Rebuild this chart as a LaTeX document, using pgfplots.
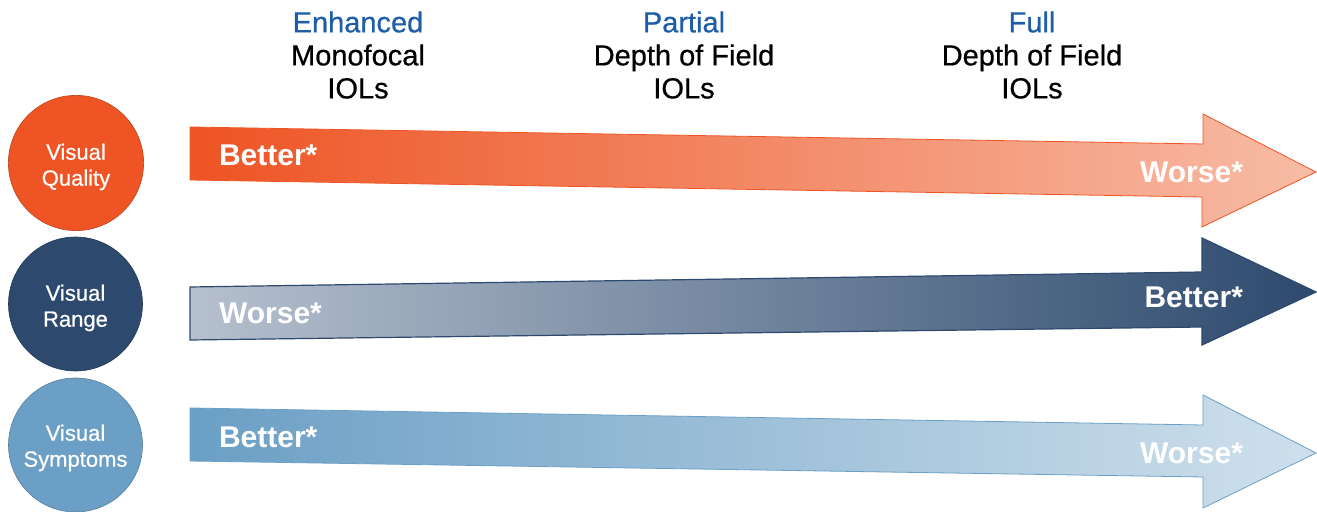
\documentclass[border=0pt]{standalone}
\usepackage{fontspec}
\setmainfont{Liberation Sans}
\newfontfamily\medfont[FakeBold=0.6]{Liberation Sans}
\usepackage{pgfplots}
\pgfplotsset{compat=1.18}

\definecolor{qorange}{HTML}{EE5424}
\definecolor{qorangeL}{HTML}{F7BCA6}
\definecolor{rnavy}{HTML}{2D4A6E}
\definecolor{rnavyL}{HTML}{B6C0CE}
\definecolor{sblue}{HTML}{6B9FC5}
\definecolor{sblueL}{HTML}{CFE0EC}
\definecolor{hblue}{HTML}{1E5DA8}

\begin{document}
\begin{tikzpicture}
    \begin{axis}[
        width=658.5pt, height=256pt,
        scale only axis,
        hide axis,
        clip=false,
        xmin=0, xmax=1317,
        ymin=0, ymax=512,
        y dir=reverse,
    ]
        % arrows (pixel coordinates, y downward)
        \addplot[mark=none, draw=qorange, thin, left color=qorange, right color=qorangeL] coordinates {
            (190,127) (1203,144) (1203,114) (1316,172) (1202,227) (1202,197) (190,180)
        } -- cycle;
        \addplot[mark=none, draw=rnavy, semithick, left color=rnavyL, right color=rnavy] coordinates {
            (190,287) (1202,272) (1202,238) (1316,292) (1202,345) (1202,327) (190,340)
        } -- cycle;
        \addplot[mark=none, draw=sblue, thin, left color=sblue, right color=sblueL] coordinates {
            (190,408) (1203,425) (1203,395) (1316,453) (1203,508) (1203,477) (190,461)
        } -- cycle;

        % circles
        \addplot[only marks, mark=*, mark size=33.8pt, mark options={fill=qorange, draw=qorange!80!black, line width=0.3pt}] coordinates {(76,163)};
        \addplot[only marks, mark=*, mark size=33.5pt, mark options={fill=rnavy, draw=rnavy!80!black, line width=0.3pt}] coordinates {(75.5,304)};
        \addplot[only marks, mark=*, mark size=33.5pt, mark options={fill=sblue, draw=sblue!80!black, line width=0.3pt}] coordinates {(75.5,445)};

        \coordinate (c1) at (axis cs:76,167);
        \coordinate (c2) at (axis cs:75.5,308);
        \coordinate (c3) at (axis cs:75.5,448);

        % arrow labels
        \node[white, font=\bfseries\fontsize{15}{17}\selectfont, anchor=west] at (axis cs:212,155) {Better*};
        \node[white, font=\bfseries\fontsize{15}{17}\selectfont, anchor=east] at (axis cs:1250,172) {Worse*};
        \node[white, font=\bfseries\fontsize{15}{17}\selectfont, anchor=west] at (axis cs:212,313) {Worse*};
        \node[white, font=\bfseries\fontsize{15}{17}\selectfont, anchor=east] at (axis cs:1250,297) {Better*};
        \node[white, font=\bfseries\fontsize{15}{17}\selectfont, anchor=west] at (axis cs:212,437) {Better*};
        \node[white, font=\bfseries\fontsize{15}{17}\selectfont, anchor=east] at (axis cs:1250,453) {Worse*};

        % column headers
        \node[font=\medfont\fontsize{14.5}{16.5}\selectfont, align=center] at (axis cs:358,55) {\textcolor{hblue}{Enhanced}\\Monofocal\\IOLs};
        \node[font=\medfont\fontsize{14.5}{16.5}\selectfont, align=center] at (axis cs:684,55) {\textcolor{hblue}{Partial}\\Depth of Field\\IOLs};
        \node[font=\medfont\fontsize{14.5}{16.5}\selectfont, align=center] at (axis cs:1032,55) {\textcolor{hblue}{Full}\\Depth of Field\\IOLs};
    \end{axis}
    % circle labels, on top of the markers
    \node[white, font=\medfont\fontsize{11}{13}\selectfont, align=center] at (c1) {Visual\\Quality};
    \node[white, font=\medfont\fontsize{11}{13}\selectfont, align=center] at (c2) {Visual\\Range};
    \node[white, font=\medfont\fontsize{11}{13}\selectfont, align=center] at (c3) {Visual\\Symptoms};
    \pgfresetboundingbox
    \path (current axis.south west) rectangle (current axis.north east);
\end{tikzpicture}
\end{document}
